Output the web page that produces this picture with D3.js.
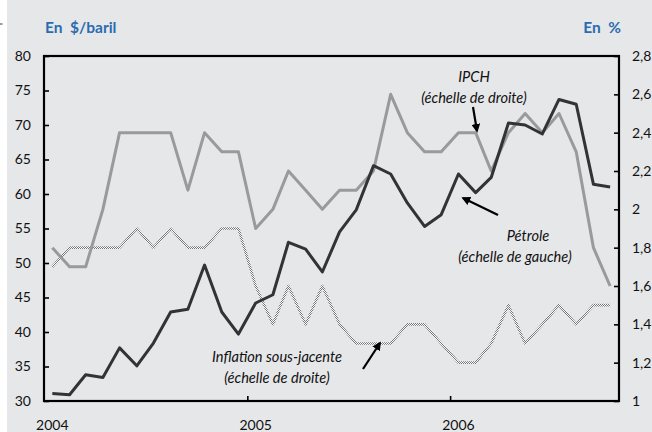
<!DOCTYPE html>
<meta charset="utf-8">
<title>Pétrole et inflation</title>
<style>
body { margin: 0; background: #fff; }
svg { display: block; }
text { font-family: Lato, "Open Sans", sans-serif; }
.tick-label { font-size: 14px; fill: #111; }
.note { font-size: 14.6px; font-style: italic; fill: #111; }
.unit { font-size: 15.5px; font-weight: bold; fill: #2a6cb0; white-space: pre; }
</style>
<svg></svg>
<script src="https://cdn.jsdelivr.net/npm/d3@7"></script>
<script>
// monthly data, Jan 2004 - Oct 2006
var months = d3.timeMonths(new Date(2004, 0, 1), new Date(2006, 10, 1));

// oil price, $/barrel (left scale)
var petrole = [31.1, 30.9, 33.8, 33.4, 37.7, 35.1, 38.4, 42.9, 43.3, 49.7, 42.9, 39.7,
               44.2, 45.4, 53.0, 52.0, 48.7, 54.5, 57.7, 64.1, 62.9, 58.7, 55.3, 57.0,
               62.9, 60.2, 62.4, 70.3, 70.0, 68.7, 73.7, 73.0, 61.4, 61.0];
// HICP, % (right scale)
var ipch = [1.8, 1.7, 1.7, 2.0, 2.4, 2.4, 2.4, 2.4, 2.1, 2.4, 2.3, 2.3,
            1.9, 2.0, 2.2, 2.1, 2.0, 2.1, 2.1, 2.2, 2.6, 2.4, 2.3, 2.3,
            2.4, 2.4, 2.2, 2.4, 2.5, 2.4, 2.5, 2.3, 1.8, 1.6];
// core inflation, % (right scale)
var sousJacente = [1.7, 1.8, 1.8, 1.8, 1.8, 1.9, 1.8, 1.9, 1.8, 1.8, 1.9, 1.9,
                   1.6, 1.4, 1.6, 1.4, 1.6, 1.4, 1.3, 1.3, 1.3, 1.4, 1.4, 1.3,
                   1.2, 1.2, 1.3, 1.5, 1.3, 1.4, 1.5, 1.4, 1.5, 1.5];

var leftTicks = [30, 35, 40, 45, 50, 55, 60, 65, 70, 75, 80];
var rightTicks = [1, 1.2, 1.4, 1.6, 1.8, 2, 2.2, 2.4, 2.6, 2.8];
var years = [2004, 2005, 2006];

var width = 652, height = 432;
var m = {left: 44, right: 619, top: 56, bottom: 401};

var svg = d3.select("svg").attr("width", width).attr("height", height);

// background
svg.append("rect").attr("x", 7).attr("y", 0)
    .attr("width", width - 7).attr("height", height)
    .style("fill", "#e6e7e9");
svg.append("line").attr("x1", 0).attr("x2", 2.5).attr("y1", 24).attr("y2", 24)
    .style("stroke", "#333").style("stroke-width", 1);

// checkered stroke for core inflation
var defs = svg.append("defs");
var pat = defs.append("pattern")
    .attr("id", "checker").attr("patternUnits", "userSpaceOnUse")
    .attr("width", 2).attr("height", 2);
pat.append("rect").attr("width", 2).attr("height", 2).style("fill", "#fafafa");
pat.append("rect").attr("width", 1).attr("height", 1).style("fill", "#767676");
pat.append("rect").attr("x", 1).attr("y", 1).attr("width", 1).attr("height", 1).style("fill", "#767676");

defs.append("marker")
    .attr("id", "head").attr("viewBox", "0 0 10 10")
    .attr("refX", 8).attr("refY", 5)
    .attr("markerWidth", 4).attr("markerHeight", 4)
    .attr("orient", "auto")
  .append("path").attr("d", "M0,0L10,5L0,10z").style("fill", "#000");

var x = d3.scaleTime()
    .domain([new Date(2004, 0, 1), new Date(2006, 10, 1)])
    .range([m.left, m.right]);
var midMonth = function(d) { return x(d3.timeDay.offset(d, 15)); };
var yL = d3.scaleLinear().domain([30, 80]).range([m.bottom, m.top]);
var yR = d3.scaleLinear().domain([1, 2.8]).range([m.bottom, m.top]);

var fr = d3.formatLocale({decimal: ",", thousands: " ", grouping: [3], currency: ["", " €"]});
var fmt = fr.format(".1~f");

// lines
var lineL = d3.line().x(function(d, i) { return midMonth(months[i]); }).y(function(d) { return yL(d); });
var lineR = d3.line().x(function(d, i) { return midMonth(months[i]); }).y(function(d) { return yR(d); });

svg.append("path").datum(sousJacente).attr("d", lineR)
    .style("fill", "none").style("stroke", "url(#checker)").style("stroke-width", 2.6)
    .style("stroke-linejoin", "round");
svg.append("path").datum(ipch).attr("d", lineR)
    .style("fill", "none").style("stroke", "#9a9a9a").style("stroke-width", 3)
    .style("stroke-linejoin", "round");
svg.append("path").datum(petrole).attr("d", lineL)
    .style("fill", "none").style("stroke", "#333").style("stroke-width", 3)
    .style("stroke-linejoin", "round");

// axes
var axL = d3.axisLeft(yL).tickValues(leftTicks).tickSize(-5).tickPadding(13);
var axR = d3.axisRight(yR).tickValues(rightTicks).tickSize(-5).tickPadding(13).tickFormat(fmt);
var axB = d3.axisBottom(x)
    .tickValues(years.slice(1).map(function(y) { return new Date(y, 0, 1); }))
    .tickSize(-5).tickFormat("");

function styleAxis(g) {
  g.select(".domain").remove();
  g.selectAll(".tick line").style("stroke", "#000").style("stroke-width", 1.6);
  g.selectAll(".tick text").attr("class", "tick-label").style("font-size", "14px");
}
svg.append("g").attr("transform", "translate(" + m.left + ",0)").call(axL).call(styleAxis);
svg.append("g").attr("transform", "translate(" + m.right + ",0)").call(axR).call(styleAxis);
svg.append("g").attr("transform", "translate(0," + m.bottom + ")").call(axB).call(styleAxis);

// frame
svg.append("rect").attr("x", m.left).attr("y", m.top)
    .attr("width", m.right - m.left).attr("height", m.bottom - m.top)
    .style("fill", "none").style("stroke", "#000").style("stroke-width", 2.2);

// year labels, centred on mid-January
svg.append("g").selectAll("text").data(years).enter().append("text")
    .attr("class", "tick-label")
    .attr("x", function(d) { return midMonth(new Date(d, 0, 1)); })
    .attr("y", 430)
    .attr("text-anchor", "middle")
    .text(function(d) { return d; });

// units
svg.append("text").attr("class", "unit").attr("x", 45).attr("y", 33).text("En  $/baril");
svg.append("text").attr("class", "unit").attr("x", 621).attr("y", 33)
    .attr("text-anchor", "end").text("En  %");

// annotations
function note(lines, cx, y0) {
  var t = svg.append("text").attr("class", "note").attr("text-anchor", "middle");
  lines.forEach(function(s, i) {
    t.append("tspan").attr("x", cx).attr("y", y0 + i * 21).text(s);
  });
}
note(["IPCH", "(échelle de droite)"], 474, 82);
note(["Pétrole"], 528, 241);
note(["(échelle de gauche)"], 515, 262);
note(["Inflation sous-jacente", "(échelle de droite)"], 277, 362);

function arrow(x1, y1, x2, y2) {
  svg.append("line").attr("x1", x1).attr("y1", y1).attr("x2", x2).attr("y2", y2)
      .style("stroke", "#000").style("stroke-width", 2.2)
      .attr("marker-end", "url(#head)");
}
arrow(473, 107, 477, 131);
arrow(498, 215, 463, 198);
arrow(363, 369, 380, 343);
</script>
